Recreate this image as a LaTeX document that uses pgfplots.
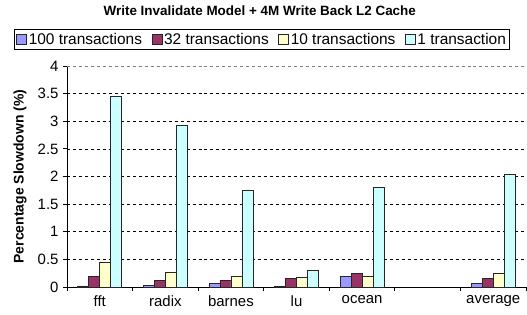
\documentclass[border=0pt]{standalone}
\usepackage{fontspec}
\setmainfont{Liberation Sans}
\usepackage{pgfplots}
\pgfplotsset{compat=1.18}
\definecolor{c100}{HTML}{9999FF}
\definecolor{c32}{HTML}{993366}
\definecolor{c10}{HTML}{FFFFCC}
\definecolor{c1}{HTML}{CCFFFF}
\begin{document}
\begin{tikzpicture}[x=1bp,y=1bp]
\useasboundingbox (0,0) rectangle (527,314);
\begin{axis}[
  at={(67bp,27bp)}, anchor=south west,
  scale only axis, width=459bp, height=221bp,
  /pgf/number format/assume math mode=true,
  font=\fontsize{15}{17}\selectfont,
  ybar=0pt, bar width=11bp,
  xmin=-0.5, xmax=6.5, ymin=0, ymax=4,
  axis x line*=bottom, axis y line*=left,
  axis line style={black, line width=0.8pt, -},
  xtick={0,1,2,3,4,5,6},
  xticklabels={fft,radix,barnes,lu,ocean,,average},
  major x tick style={draw=none},
  minor xtick={-0.5,0.5,1.5,2.5,3.5,4.5,5.5,6.5},
  minor tick length=4bp,
  xtick pos=bottom, ytick pos=left,
  x tick style={black, line width=0.8pt},
  ytick={0,0.5,...,4},
  yticklabels={0,0.5,1,1.5,2,2.5,3,3.5,4},
  y tick style={black, line width=0.8pt},
  major tick length=4bp,
  tick align=outside,
  xticklabel style={yshift=-1bp},
  yticklabel style={xshift=-1bp},
  ymajorgrids, grid style={black, dashed, line width=0.6pt},
  ylabel={\bfseries Percentage Slowdown (\%)},
  ylabel style={at={(rel axis cs:0,0.5)}, anchor=center, rotate=0, yshift=47bp, font=\fontsize{14}{16}\selectfont},
  title={\bfseries Write Invalidate Model + 4M Write Back L2 Cache},
  title style={at={(rel axis cs:0.42,1.225)}, anchor=center, font=\fontsize{13.5}{15}\selectfont},
  legend columns=4,
  legend style={at={(rel axis cs:0.425,1.12)}, anchor=center, draw=black, line width=0.8pt,
    font=\fontsize{15.5}{17}\selectfont, inner sep=1.5bp,
    /tikz/every even column/.append style={column sep=7.5bp}},
  legend image code/.code={\draw[#1, line width=0.5pt] (0bp,-5bp) rectangle (10bp,5bp);},
  clip=false,
]
\addplot[fill=c100, draw=black!85, line width=0.6pt] coordinates {(0,0.02) (1,0.03) (2,0.07) (3,0.01) (4,0.19) (6,0.06)};
\addplot[fill=c32, draw=black!85, line width=0.6pt] coordinates {(0,0.19) (1,0.12) (2,0.12) (3,0.16) (4,0.24) (6,0.16)};
\addplot[fill=c10, draw=black!85, line width=0.6pt] coordinates {(0,0.45) (1,0.26) (2,0.19) (3,0.17) (4,0.19) (6,0.25)};
\addplot[fill=c1, draw=black!85, line width=0.6pt] coordinates {(0,3.45) (1,2.92) (2,1.75) (3,0.30) (4,1.80) (6,2.04)};
\legend{100 transactions,32 transactions,10 transactions,1 transaction}
\draw[gray, dashed, line width=0.8pt] (rel axis cs:0,1) -- (rel axis cs:1,1);
\end{axis}
\end{tikzpicture}
\end{document}
